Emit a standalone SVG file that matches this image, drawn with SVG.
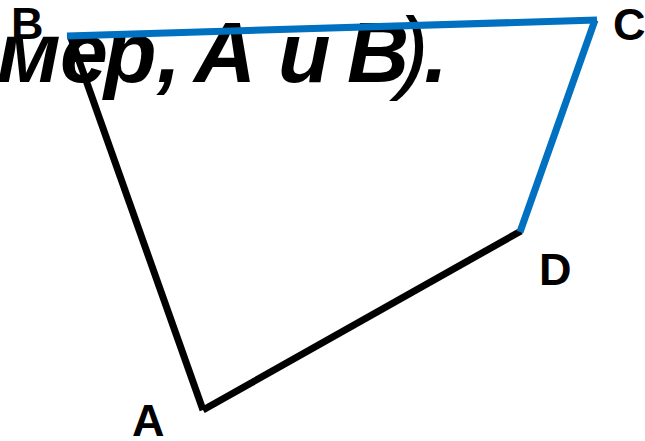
<svg xmlns="http://www.w3.org/2000/svg" width="645" height="441" viewBox="0 0 645 441">
<style>
.bg{font-family:"Liberation Sans",Arial,sans-serif;font-weight:bold;font-style:italic;font-size:86px;fill:#000}
.thin{font-weight:normal;font-size:92px}
.lbl{font-family:"Liberation Sans",Arial,sans-serif;font-weight:bold;font-size:45px;fill:#000}
.blk{stroke:#000;stroke-width:7;fill:none;stroke-linecap:butt}
.blu{stroke:#0070C0;stroke-width:7;fill:none;stroke-linecap:butt}
</style>
<rect width="645" height="441" fill="#fff"/>
<text class="bg" y="82"><tspan x="-3">м</tspan><tspan x="60">е</tspan><tspan x="104">р</tspan><tspan x="157">,</tspan><tspan x="194">A</tspan><tspan x="278">и</tspan><tspan x="347">B</tspan><tspan class="thin" x="398">)</tspan><tspan x="424">.</tspan></text>
<g id="connectors">
<line class="blk" x1="71" y1="38" x2="203" y2="410"/>
<line class="blk" x1="203" y1="410" x2="521" y2="231"/>
<line class="blu" x1="67" y1="36" x2="597" y2="20"/>
<line class="blu" x1="595" y1="20" x2="520" y2="232"/>
</g>
<g id="B"><text class="lbl" x="11" y="39">B</text></g>
<g id="C"><text class="lbl" x="613" y="40">C</text></g>
<g id="D"><text class="lbl" x="539" y="285">D</text></g>
<g id="A"><text class="lbl" x="132" y="436">A</text></g>
</svg>
